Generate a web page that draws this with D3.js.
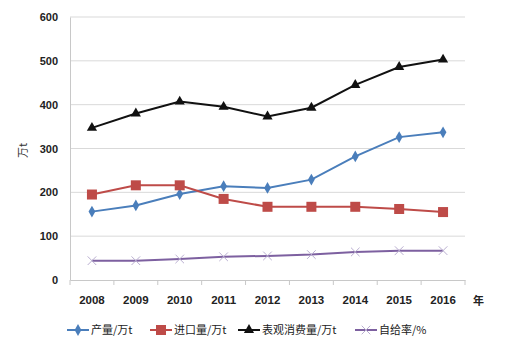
<!DOCTYPE html>
<html>
<head>
<meta charset="utf-8">
<script src="https://cdn.jsdelivr.net/npm/d3@7"></script>
<style>
  body { margin: 0; background: #fff; }
  svg { display: block; }
</style>
</head>
<body>
<svg id="chart"></svg>
<script>
const years = ["2008", "2009", "2010", "2011", "2012", "2013", "2014", "2015", "2016"];
const production = [156, 170, 196, 214, 210, 229, 282, 326, 337];
const imports = [195, 216, 216, 185, 167, 167, 167, 162, 155];
const consumption = [347, 380, 407, 395, 373, 393, 445, 486, 503];
const selfRate = [44, 44, 48, 53, 55, 58, 64, 67, 67];
const yTicks = [0, 100, 200, 300, 400, 500, 600];

const series = [
    { name: "产量/万t", values: production, color: "#4a7ebb", marker: "diamond" },
    { name: "进口量/万t", values: imports, color: "#be4b48", marker: "square" },
    { name: "表观消费量/万t", values: consumption, color: "#111111", marker: "triangle" },
    { name: "自给率/%", values: selfRate, color: "#7d60a0", marker: "cross" }
];

const width = 512, height = 351;
const margin = { left: 70, right: 47, top: 17, bottom: 71 };

const svg = d3.select("#chart")
    .attr("width", width)
    .attr("height", height);

const x = d3.scaleBand()
    .domain(years)
    .range([margin.left, width - margin.right]);

const y = d3.scaleLinear()
    .domain([0, 600])
    .range([height - margin.bottom, margin.top]);

// gridlines
svg.append("g")
    .selectAll("line")
    .data(yTicks.slice(1))
    .join("line")
    .attr("x1", margin.left)
    .attr("x2", width - margin.right)
    .attr("y1", d => y(d))
    .attr("y2", d => y(d))
    .style("stroke", "#d9d9d9")
    .style("stroke-width", 1);

// y axis
const yAxis = svg.append("g")
    .attr("transform", `translate(${margin.left},0)`)
    .call(d3.axisLeft(y).tickValues(yTicks).tickSize(0).tickPadding(12));
yAxis.select(".domain").style("stroke", "#c8c8c8");
yAxis.selectAll("text")
    .style("font-family", "Liberation Sans, Arial, sans-serif")
    .style("font-size", "11px")
    .style("font-weight", "bold")
    .style("fill", "#222");

// x axis
const xAxis = svg.append("g")
    .attr("transform", `translate(0,${y(0)})`)
    .call(d3.axisBottom(x).tickSize(0).tickPadding(16));
xAxis.select(".domain").style("stroke", "#c8c8c8");
xAxis.selectAll("text")
    .style("font-family", "Liberation Sans, Arial, sans-serif")
    .style("font-size", "11.5px")
    .style("font-weight", "bold")
    .style("fill", "#222");

// boundary ticks between categories
const bounds = years.map(d => x(d)).concat([x.range()[1]]);
svg.append("g")
    .selectAll("line")
    .data(bounds)
    .join("line")
    .attr("x1", d => d)
    .attr("x2", d => d)
    .attr("y1", y(0))
    .attr("y2", y(0) + 5)
    .style("stroke", "#c8c8c8");

svg.append("text")
    .attr("x", x.range()[1] + 8)
    .attr("y", y(0) + 25)
    .style("font-family", "Noto Sans CJK SC, sans-serif")
    .style("font-size", "11px")
    .style("font-weight", "bold")
    .style("fill", "#222")
    .text("年");

svg.append("text")
    .attr("transform", `translate(27,${(y(0) + y(600)) / 2 + 2}) rotate(-90)`)
    .attr("text-anchor", "middle")
    .style("font-family", "Noto Sans CJK SC, serif")
    .style("font-size", "11px")
    .style("fill", "#333")
    .text("万t");

const line = d3.line()
    .x((d, i) => x(years[i]) + x.bandwidth() / 2)
    .y(d => y(d));

const drawMarker = (g, type, color, cx, cy) => {
    if (type === "diamond") {
        g.append("path")
            .attr("d", d3.symbol().type(d3.symbolDiamond).size(40)())
            .attr("transform", `translate(${cx},${cy})`)
            .style("fill", color);
    } else if (type === "square") {
        g.append("rect")
            .attr("x", cx - 5).attr("y", cy - 5)
            .attr("width", 10).attr("height", 10)
            .style("fill", color);
    } else if (type === "triangle") {
        g.append("path")
            .attr("d", d3.symbol().type(d3.symbolTriangle).size(45)())
            .attr("transform", `translate(${cx},${cy})`)
            .style("fill", color);
    } else {
        g.append("path")
            .attr("d", d3.symbol().type(d3.symbolX).size(50)())
            .attr("transform", `translate(${cx},${cy})`)
            .style("fill", "none")
            .style("stroke", "#b9aed0")
            .style("stroke-width", 1);
    }
};

series.forEach(s => {
    const g = svg.append("g");
    g.append("path")
        .datum(s.values)
        .attr("d", line)
        .style("fill", "none")
        .style("stroke", s.color)
        .style("stroke-width", 2);
    s.values.forEach((v, i) => {
        drawMarker(g, s.marker, s.color, x(years[i]) + x.bandwidth() / 2, y(v));
    });
});

// legend
const legendY = 330;
const legendX = [67, 150, 238, 355];
series.forEach((s, i) => {
    const g = svg.append("g");
    const lx = legendX[i];
    g.append("line")
        .attr("x1", lx).attr("x2", lx + 22)
        .attr("y1", legendY).attr("y2", legendY)
        .style("stroke", s.color)
        .style("stroke-width", 2);
    drawMarker(g, s.marker, s.color, lx + 11, legendY);
    g.append("text")
        .attr("x", lx + 24)
        .attr("y", legendY + 4)
        .style("font-family", "Noto Sans CJK SC, sans-serif")
        .style("font-size", "11px")
        .style("fill", "#222")
        .text(s.name);
});
</script>
</body>
</html>
